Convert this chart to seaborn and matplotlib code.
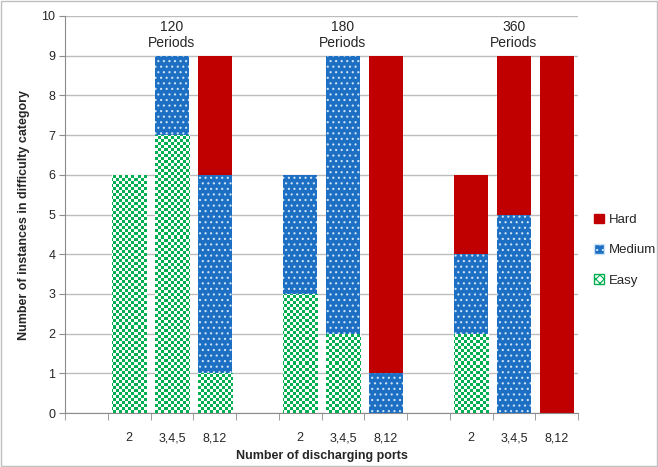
import numpy as np
import pandas as pd
import matplotlib
matplotlib.use("Agg")
import matplotlib.pyplot as plt
import seaborn as sns
from matplotlib.patches import Patch, Rectangle

periods = ["120", "180", "360"]
ports = ["2", "3,4,5", "8,12"]
easy = [6, 7, 1, 3, 2, 0, 2, 0, 0]
medium = [0, 2, 5, 3, 7, 1, 2, 5, 0]
hard = [0, 0, 3, 0, 0, 8, 2, 4, 9]

rows = []
order = []
k = 0
for gi, p in enumerate(periods):
    order.append(" " * (gi + 1))
    for port in ports:
        slot = f"{p}|{port}"
        order.append(slot)
        rows.append({"slot": slot, "period": p, "port": port,
                     "Easy": easy[k], "Medium": medium[k], "Hard": hard[k]})
        k += 1
df = pd.DataFrame(rows)
df["cum_easy"] = df["Easy"]
df["cum_med"] = df["Easy"] + df["Medium"]
df["cum_hard"] = df["Easy"] + df["Medium"] + df["Hard"]

sns.set_style("white")
plt.rcParams["font.family"] = ["Liberation Sans", "DejaVu Sans"]
plt.rcParams["hatch.linewidth"] = 0.8

fig = plt.figure(figsize=(6.58, 4.67), dpi=100)
ax = fig.add_axes([65 / 658, 1 - 413 / 467, 513 / 658, 397 / 467])

RED = "#C00000"
BLUE = "#1C6FC2"
GREEN = "#00B050"
W = 0.80

sns.barplot(data=df, x="slot", y="cum_hard", order=order, color=RED,
            width=W, ax=ax, saturation=1, linewidth=0, zorder=2)
n_hard = len(ax.patches)
sns.barplot(data=df, x="slot", y="cum_med", order=order, color=BLUE,
            width=W, ax=ax, saturation=1, linewidth=0, zorder=3)
n_med = len(ax.patches)
for p in ax.patches[n_hard:n_med]:
    p.set_hatch("...")
    p.set_edgecolor("#CFE3F7")
    p.set_linewidth(0)
sns.barplot(data=df, x="slot", y="cum_easy", order=order, color="white",
            width=W, ax=ax, saturation=1, linewidth=0, zorder=4)
easy_patches = ax.patches[n_med:]

ax.set_xlim(-0.5, len(order) - 0.5)
ax.set_ylim(0, 10)

# checkerboard for easy bars
ny, nx = 132, 171
yy, xx = np.mgrid[0:ny, 0:nx]
chk = ((xx + yy) % 2).astype(float)
img = np.zeros((ny, nx, 3))
g = np.array([0, 176, 80]) / 255.0
img[chk == 0] = g
img[chk == 1] = [1, 1, 1]
for p in easy_patches:
    if p.get_height() <= 0:
        continue
    im = ax.imshow(img, extent=[-0.5, len(order) - 0.5, 0, 10], aspect="auto",
                   interpolation="nearest", zorder=5, origin="lower")
    im.set_clip_path(p)
ax.set_xlim(-0.5, len(order) - 0.5)
ax.set_ylim(0, 10)

# axes styling
ax.set_yticks(range(0, 11))
ax.yaxis.grid(True, color="#BDBDBD", linewidth=1, zorder=0)
ax.set_axisbelow(True)
for s in ["top", "right"]:
    ax.spines[s].set_visible(False)
for s in ["left", "bottom"]:
    ax.spines[s].set_color("#8C8C8C")
ax.tick_params(axis="y", which="major", length=4, color="#8C8C8C",
               labelsize=9, left=True, pad=3)

centers = [i for i, o in enumerate(order) if o.strip()]
labels = [o.split("|")[1] for o in order if o.strip()]
ax.set_xticks(centers)
ax.set_xticklabels(labels, fontsize=9)
ax.set_xticks(np.arange(-0.5, len(order) + 0.5, 1), minor=True)
ax.tick_params(axis="x", which="major", length=0, pad=14)
ax.tick_params(axis="x", which="minor", length=5, color="#8C8C8C", bottom=True)

ax.set_xlabel("Number of discharging ports", fontsize=9, fontweight="bold",
              labelpad=4)
ax.set_ylabel("Number of instances in difficulty category", fontsize=9,
              fontweight="bold", labelpad=8)

for gi, p in enumerate(periods):
    cx = order.index(f"{p}|{ports[1]}")
    ax.text(cx, 9.52, f"{p}\nPeriods", ha="center", va="center", fontsize=10,
            linespacing=1.15, zorder=6)

handles = [Patch(facecolor=RED, edgecolor=RED, label="Hard"),
           Patch(facecolor=BLUE, edgecolor="#CFE3F7", hatch="...", label="Medium"),
           Patch(facecolor="white", edgecolor=GREEN, hatch="xxxx", label="Easy")]
leg = ax.legend(handles=handles, loc="center left", bbox_to_anchor=(1.014, 0.41),
                frameon=False, fontsize=9.5, handlelength=0.75, handleheight=0.75,
                labelspacing=1.35, handletextpad=0.35, borderaxespad=0.3)

fig.patches.append(Rectangle((0.002, 0.003), 0.996, 0.994, transform=fig.transFigure,
                             fill=False, edgecolor="#BFBFBF", linewidth=1))

fig.savefig("out.png", dpi=100)
